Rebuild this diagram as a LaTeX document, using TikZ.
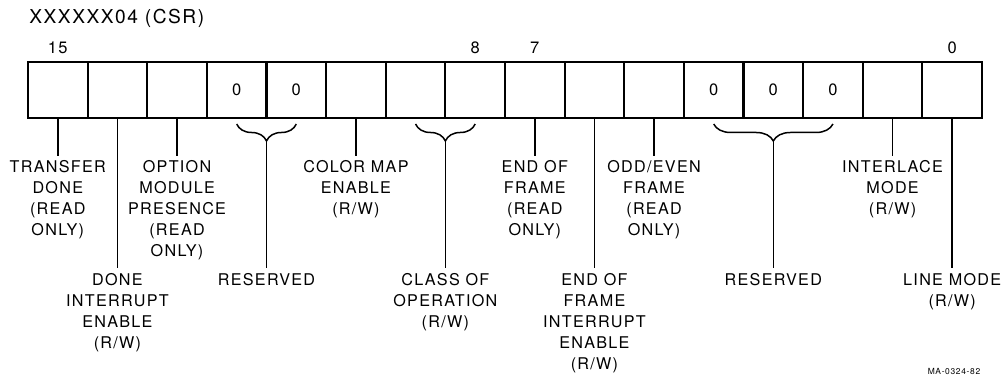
\documentclass[tikz,border=0pt]{standalone}
\usepackage{fontspec}
\setmainfont{TeX Gyre Heros}[LetterSpace=8]
\usetikzlibrary{positioning,decorations.pathreplacing}

\begin{document}
\begin{tikzpicture}[x=0.02cm, y=-0.02cm,
    cell/.style={draw, line width=1.2pt, minimum width=1.1925cm, minimum height=1.12cm, inner sep=0pt, outer sep=0pt, font=\fontsize{9.4}{11}\selectfont},
    lbl/.style={align=center, inner sep=0.09cm, font=\fontsize{9.2}{11.9}\selectfont},
    bitno/.style={anchor=base, font=\fontsize{9.4}{11}\selectfont},
    leader/.style={line width=0.85pt},
    brc/.style={decorate, decoration={brace, mirror, amplitude=0.34cm}, line width=0.85pt}]
  \useasboundingbox (0,0) rectangle (1003,379);
  \node[anchor=base west, inner sep=0pt, font=\fontsize{10.9}{13}\selectfont] (title) at (29,23) {XXXXXX04 (CSR)};
  % register cells, bit 15 on the left
  \foreach \b/\v in {15/,14/,13/,12/0,11/0,10/,9/,8/,7/,6/,5/,4/0,3/0,2/0,1/,0/}
    \node[cell] (b\b) at ({28+59.625*(15.5-\b)},90) {\v};
  \foreach \b in {15,8,7,0}
    \node[bitno] (n\b) at ([yshift=0.18cm]b\b.north) {\b};

  % single bit fields
  \node[lbl, below=0.76cm of b15] (l15) {TRANSFER\\DONE\\(READ\\ONLY)};
  \node[lbl, below=3.01cm of b14] (l14) {DONE\\INTERRUPT\\ENABLE\\(R/W)};
  \node[lbl, below=0.76cm of b13] (l13) {OPTION\\MODULE\\PRESENCE\\(READ\\ONLY)};
  \node[lbl, below=0.76cm of b10] (l10) {COLOR MAP\\ENABLE\\(R/W)};
  \node[lbl, below=0.76cm of b7] (l7) {END OF\\FRAME\\(READ\\ONLY)};
  \node[lbl, below=3.01cm of b6] (l6) {END OF\\FRAME\\INTERRUPT\\ENABLE\\(R/W)};
  \node[lbl, below=0.76cm of b5] (l5) {ODD/EVEN\\FRAME\\(READ\\ONLY)};
  \node[lbl, below=0.76cm of b1] (l1) {INTERLACE\\MODE\\(R/W)};
  \node[lbl, below=3.01cm of b0] (l0) {LINE MODE\\(R/W)};
  \foreach \b in {15,14,13,10,7,6,5,1,0}
    \draw[leader] (b\b.south) -- (l\b.north);

  % grouped fields
  \draw[brc] ([yshift=-0.12cm]b12.south) -- ([yshift=-0.12cm]b11.south) coordinate[pos=0.5, yshift=-0.34cm] (r12);
  \draw[brc] ([yshift=-0.12cm]b9.south) -- ([yshift=-0.12cm]b8.south) coordinate[pos=0.5, yshift=-0.34cm] (r9);
  \draw[brc] ([yshift=-0.12cm]b4.south) -- ([yshift=-0.12cm]b2.south) coordinate[pos=0.5, yshift=-0.34cm] (r4);
  \node[lbl, below=2.55cm of r12] (l12) {RESERVED};
  \node[lbl, below=2.55cm of r9] (l9) {CLASS OF\\OPERATION\\(R/W)};
  \node[lbl, below=2.55cm of r4] (l4) {RESERVED};
  \foreach \r in {12,9,4}
    \draw[leader] (r\r) -- (l\r.north);

  \node[font=\fontsize{4.8}{6}\selectfont] (fig) at (954,371) {MA-0324-82};
\end{tikzpicture}
\end{document}
